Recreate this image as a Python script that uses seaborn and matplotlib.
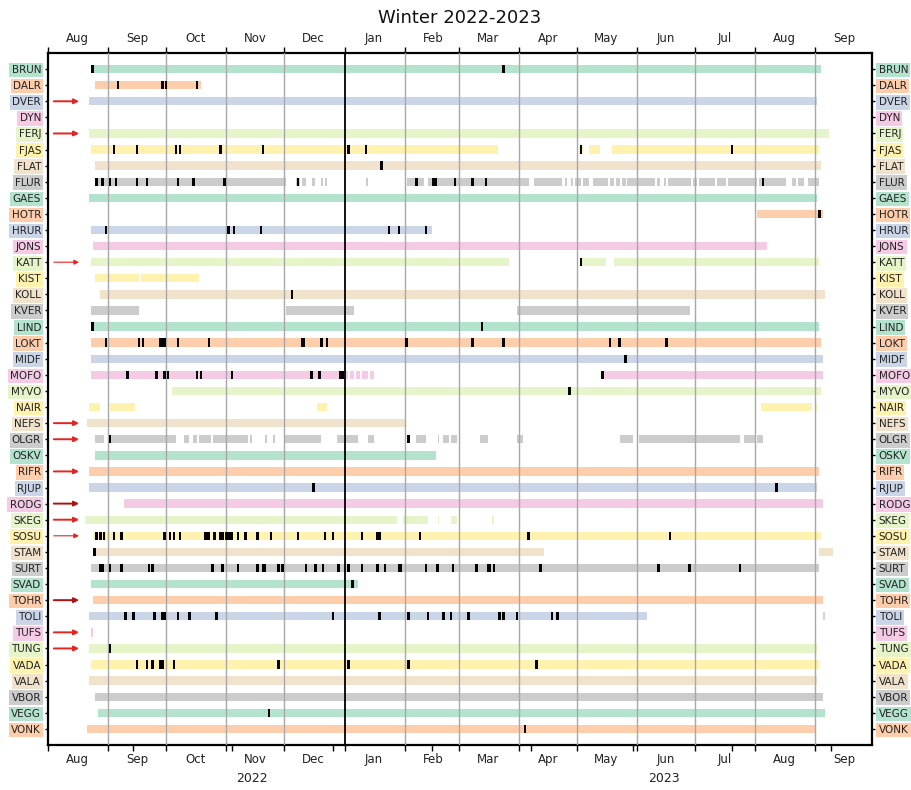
import matplotlib
matplotlib.use('Agg')
import matplotlib.pyplot as plt
import matplotlib.dates as mdates
from matplotlib.ticker import NullFormatter
import seaborn as sns
import pandas as pd

# ---------------- data ----------------
stations = ['BRUN', 'DALR', 'DVER', 'DYN', 'FERJ', 'FJAS', 'FLAT', 'FLUR', 'GAES', 'HOTR',
            'HRUR', 'JONS', 'KATT', 'KIST', 'KOLL', 'KVER', 'LIND', 'LOKT', 'MIDF', 'MOFO',
            'MYVO', 'NAIR', 'NEFS', 'OLGR', 'OSKV', 'RIFR', 'RJUP', 'RODG', 'SKEG', 'SOSU',
            'STAM', 'SURT', 'SVAD', 'TOHR', 'TOLI', 'TUFS', 'TUNG', 'VADA', 'VALA', 'VBOR',
            'VEGG', 'VONK']

periods = {
    'BRUN': [('2022-08-23', '2023-09-04')],
    'DALR': [('2022-08-25', '2022-10-19')],
    'DVER': [('2022-08-22', '2023-09-02')],
    'DYN': [],
    'FERJ': [('2022-08-22', '2023-09-08')],
    'FJAS': [('2022-08-23', '2023-03-21'), ('2023-05-02', '2023-05-04'), ('2023-05-07', '2023-05-13'),
             ('2023-05-19', '2023-09-03')],
    'FLAT': [('2022-08-25', '2023-09-04')],
    'FLUR': [('2022-08-25', '2022-12-02'), ('2022-12-07', '2022-12-09'), ('2022-12-10', '2022-12-12'),
             ('2022-12-15', '2022-12-17'), ('2022-12-20', '2022-12-21'), ('2022-12-22', '2022-12-23'),
             ('2023-01-12', '2023-01-13'), ('2023-02-02', '2023-02-11'), ('2023-02-13', '2023-04-06'),
             ('2023-04-09', '2023-04-23'), ('2023-04-25', '2023-04-26'), ('2023-04-28', '2023-04-29'),
             ('2023-04-30', '2023-05-03'), ('2023-05-04', '2023-05-07'), ('2023-05-09', '2023-05-17'),
             ('2023-05-18', '2023-05-20'), ('2023-05-21', '2023-05-23'), ('2023-05-24', '2023-05-26'),
             ('2023-05-27', '2023-06-10'), ('2023-06-11', '2023-06-13'), ('2023-06-15', '2023-06-16'),
             ('2023-06-17', '2023-06-29'), ('2023-06-30', '2023-07-02'), ('2023-07-03', '2023-07-11'),
             ('2023-07-12', '2023-07-17'), ('2023-07-18', '2023-08-02'), ('2023-08-03', '2023-08-17'),
             ('2023-08-20', '2023-08-22'), ('2023-08-23', '2023-08-26'), ('2023-08-28', '2023-09-03')],
    'GAES': [('2022-08-22', '2023-09-02')],
    'HOTR': [('2023-08-02', '2023-09-05')],
    'HRUR': [('2022-08-23', '2023-02-15')],
    'JONS': [('2022-08-24', '2023-08-07')],
    'KATT': [('2022-08-23', '2023-03-27'), ('2023-05-03', '2023-05-16'), ('2023-05-20', '2023-09-03')],
    'KIST': [('2022-08-25', '2022-09-17'), ('2022-09-18', '2022-10-18')],
    'KOLL': [('2022-08-28', '2023-09-06')],
    'KVER': [('2022-08-23', '2022-09-17'), ('2022-12-02', '2023-01-06'), ('2023-03-31', '2023-06-28')],
    'LIND': [('2022-08-23', '2023-09-03')],
    'LOKT': [('2022-08-23', '2023-09-04')],
    'MIDF': [('2022-08-23', '2023-09-05')],
    'MOFO': [('2022-08-23', '2023-01-03'), ('2023-01-04', '2023-01-06'), ('2023-01-07', '2023-01-09'),
             ('2023-01-10', '2023-01-13'), ('2023-01-14', '2023-01-16'), ('2023-05-14', '2023-09-05')],
    'MYVO': [('2022-10-04', '2023-09-04')],
    'NAIR': [('2022-08-22', '2022-08-28'), ('2022-09-02', '2022-09-15'), ('2022-12-18', '2022-12-23'),
             ('2023-08-04', '2023-08-30'), ('2023-09-01', '2023-09-02')],
    'NEFS': [('2022-08-21', '2023-02-01')],
    'OLGR': [('2022-08-25', '2022-08-30'), ('2022-09-02', '2022-10-06'), ('2022-10-10', '2022-10-13'),
             ('2022-10-15', '2022-10-17'), ('2022-10-18', '2022-10-24'), ('2022-10-25', '2022-11-12'),
             ('2022-11-13', '2022-11-14'), ('2022-11-21', '2022-11-22'), ('2022-11-25', '2022-11-26'),
             ('2022-12-01', '2022-12-20'), ('2022-12-28', '2023-01-08'), ('2023-01-13', '2023-01-16'),
             ('2023-02-07', '2023-02-12'), ('2023-02-18', '2023-02-19'), ('2023-02-21', '2023-02-24'),
             ('2023-02-25', '2023-02-28'), ('2023-03-12', '2023-03-16'), ('2023-03-31', '2023-04-03'),
             ('2023-05-23', '2023-05-30'), ('2023-06-02', '2023-07-24'), ('2023-07-26', '2023-08-01'),
             ('2023-08-02', '2023-08-05')],
    'OSKV': [('2022-08-25', '2023-02-17')],
    'RIFR': [('2022-08-22', '2023-09-03')],
    'RJUP': [('2022-08-22', '2023-09-02')],
    'RODG': [('2022-09-09', '2023-09-05')],
    'SKEG': [('2022-08-20', '2023-01-28'), ('2023-01-31', '2023-02-13'), ('2023-02-18', '2023-02-19'),
             ('2023-02-25', '2023-02-28'), ('2023-03-18', '2023-03-19')],
    'SOSU': [('2022-08-24', '2023-09-04')],
    'STAM': [('2022-08-24', '2023-04-14'), ('2023-09-03', '2023-09-10')],
    'SURT': [('2022-08-23', '2023-09-03')],
    'SVAD': [('2022-08-23', '2023-01-08')],
    'TOHR': [('2022-08-24', '2023-09-05')],
    'TOLI': [('2022-08-22', '2023-06-06'), ('2023-09-05', '2023-09-06')],
    'TUFS': [('2022-08-23', '2022-08-24')],
    'TUNG': [('2022-08-22', '2023-09-02')],
    'VADA': [('2022-08-23', '2023-09-03')],
    'VALA': [('2022-08-22', '2023-09-02')],
    'VBOR': [('2022-08-25', '2023-09-05')],
    'VEGG': [('2022-08-27', '2023-09-06')],
    'VONK': [('2022-08-21', '2023-09-01')],
}

events = {
    'BRUN': ['2022-08-24', '2023-03-24'],
    'DALR': ['2022-09-06', '2022-09-29', '2022-10-01', '2022-10-17'],
    'FJAS': ['2022-09-04', '2022-09-16', '2022-10-06', '2022-10-08', '2022-10-29', '2022-11-20',
             '2023-01-03', '2023-01-12', '2023-05-03', '2023-07-20'],
    'FLAT': ['2023-01-20'],
    'FLUR': ['2022-08-26', '2022-08-29', '2022-09-02', '2022-09-05', '2022-09-16', '2022-09-21',
             '2022-10-07', '2022-10-15', '2022-10-31', '2022-12-08', '2023-02-07', '2023-02-16',
             '2023-02-17', '2023-02-27', '2023-03-08', '2023-03-15', '2023-08-05'],
    'HOTR': ['2023-09-03'],
    'HRUR': ['2022-08-31', '2022-11-02', '2022-11-05', '2022-11-19', '2023-01-24', '2023-01-29',
             '2023-02-12'],
    'KATT': ['2023-05-03'],
    'KOLL': ['2022-12-05'],
    'LIND': ['2022-08-24', '2023-03-13'],
    'LOKT': ['2022-08-31', '2022-09-17', '2022-09-19', '2022-09-28', '2022-09-29', '2022-09-30',
             '2022-10-07', '2022-10-23', '2022-12-10', '2022-12-11', '2022-12-20', '2022-12-23',
             '2023-02-02', '2023-03-08', '2023-03-24', '2023-05-18', '2023-05-23', '2023-06-16'],
    'MIDF': ['2023-05-26'],
    'MOFO': ['2022-09-11', '2022-09-26', '2022-09-30', '2022-10-02', '2022-10-17', '2022-10-19',
             '2022-11-04', '2022-12-15', '2022-12-19', '2022-12-30', '2022-12-31', '2023-05-14'],
    'MYVO': ['2023-04-27'],
    'OLGR': ['2022-09-02', '2023-02-03'],
    'RJUP': ['2022-12-16', '2023-08-12'],
    'SOSU': ['2022-08-26', '2022-08-28', '2022-08-30', '2022-09-04', '2022-09-08', '2022-09-30',
             '2022-10-03', '2022-10-05', '2022-10-08', '2022-10-21', '2022-10-22', '2022-10-23',
             '2022-10-26', '2022-10-29', '2022-10-30', '2022-11-01', '2022-11-02', '2022-11-03',
             '2022-11-04', '2022-11-07', '2022-11-11', '2022-11-17', '2022-11-24', '2022-12-08',
             '2022-12-22', '2022-12-26', '2023-01-10', '2023-01-18', '2023-01-19', '2023-02-09',
             '2023-04-06', '2023-06-18'],
    'STAM': ['2022-08-25'],
    'SURT': ['2022-08-28', '2022-08-29', '2022-09-02', '2022-09-08', '2022-09-22', '2022-09-24',
             '2022-10-25', '2022-10-30', '2022-11-07', '2022-11-17', '2022-11-20', '2022-11-21',
             '2022-11-28', '2022-11-30', '2022-12-12', '2022-12-17', '2022-12-21', '2022-12-29',
             '2023-01-03', '2023-01-10', '2023-01-18', '2023-01-22', '2023-01-29', '2023-01-30',
             '2023-02-12', '2023-02-18', '2023-02-26', '2023-03-10', '2023-03-16', '2023-03-17',
             '2023-03-19', '2023-04-12', '2023-06-12', '2023-06-28', '2023-07-24'],
    'SVAD': ['2023-01-05'],
    'TOLI': ['2022-09-10', '2022-09-14', '2022-09-25', '2022-09-29', '2022-09-30', '2022-10-07',
             '2022-10-13', '2022-10-27', '2022-12-26', '2023-01-19', '2023-02-03', '2023-02-13',
             '2023-02-21', '2023-02-25', '2023-03-06', '2023-03-22', '2023-03-24', '2023-03-31',
             '2023-04-18', '2023-04-21'],
    'TUNG': ['2022-09-02'],
    'VADA': ['2022-09-16', '2022-09-21', '2022-09-24', '2022-09-28', '2022-09-29', '2022-10-05',
             '2022-11-28', '2023-01-03', '2023-02-03', '2023-04-10'],
    'VEGG': ['2022-11-23'],
    'VONK': ['2023-04-04'],
}

arrow_stations = ['DVER', 'FERJ', 'KATT', 'NEFS', 'OLGR', 'RIFR', 'RODG', 'SKEG', 'SOSU',
                  'TOHR', 'TUFS', 'TUNG']
thin_arrows = ['KATT', 'SOSU']
dark_arrows = ['RODG', 'TOHR']

x_start, x_end = '2022-08-01', '2023-09-30'
year_change = '2023-01-01'
extra_ticks = ['2022-09-14', '2022-11-04', '2022-12-26', '2023-02-15', '2023-04-07',
               '2023-05-30', '2023-07-20', '2023-09-09']
year_labels = ['2022', '2023']
year_label_dates = ['2022-11-14', '2023-06-15']
title = 'Winter 2022-2023'

# ---------------- style ----------------
sns.set_theme(style='white')
plt.rcParams['font.family'] = ['DejaVu Sans']
palette = sns.color_palette('Pastel2', 8)


def dn(d):
    return mdates.date2num(pd.Timestamp(d))


fig, ax = plt.subplots(figsize=(9.12, 7.90), dpi=100)
fig.subplots_adjust(left=48 / 912, right=871.7 / 912, top=1 - 53 / 790, bottom=1 - 745 / 790)

bar_h = 0.52
for i, st in enumerate(stations):
    col = palette[i % 8]
    segs = periods.get(st, [])
    if segs:
        ax.broken_barh([(dn(s), dn(e) - dn(s)) for s, e in segs], (i - bar_h / 2, bar_h),
                       facecolors=col, edgecolor='none', zorder=2)
    ev = events.get(st, [])
    if ev:
        ax.broken_barh([(dn(d) - 0.65, 1.3) for d in ev], (i - bar_h / 2, bar_h),
                       facecolors='black', edgecolor='none', zorder=4)

# month grid lines
for d in pd.date_range('2022-09-01', '2023-09-01', freq='MS'):
    if d == pd.Timestamp(year_change):
        ax.axvline(mdates.date2num(d), color='black', lw=1.3, zorder=3)
    else:
        ax.axvline(mdates.date2num(d), color='#a8a8a8', lw=1.0, zorder=3)

# arrows
for st in arrow_stations:
    i = stations.index(st)
    lw = 0.8 if st in thin_arrows else 1.4
    c = '#b01010' if st in dark_arrows else '#e8231e'
    ax.annotate('', xy=(dn('2022-08-17'), i), xytext=(dn('2022-08-04'), i),
                arrowprops=dict(arrowstyle='-|>', color=c, lw=lw, mutation_scale=7,
                                shrinkA=0, shrinkB=0), zorder=5)

ax.set_xlim(dn(x_start), dn(x_end))
ax.set_ylim(42.0, -1.0)

# x axis
ax.xaxis.set_major_locator(mdates.MonthLocator())
ax.xaxis.set_major_formatter(NullFormatter())
ax.xaxis.set_minor_locator(mdates.MonthLocator(bymonthday=16))
ax.xaxis.set_minor_formatter(mdates.DateFormatter('%b'))
ax.tick_params(axis='x', which='major', length=4.5, width=1.0, direction='out',
               top=True, bottom=True, color='black')
ax.tick_params(axis='x', which='minor', length=0, top=True, bottom=True,
               labeltop=True, labelbottom=True, labelsize=8.5, pad=5.5, labelcolor='#222222')

sec = ax.secondary_xaxis('bottom')
sec.set_xticks([dn(d) for d in extra_ticks])
sec.set_xticklabels([''] * len(extra_ticks))
sec.tick_params(length=4.5, width=1.0, color='black')
sec.spines['bottom'].set_visible(False)

# y axis
ax.set_yticks(range(len(stations)))
ax.set_yticklabels(stations)
ax.tick_params(axis='y', which='major', left=True, right=True, labelleft=True, labelright=True,
               length=2.5, width=1.0, pad=2.5, labelsize=7.5, color='black', labelcolor='#222222')
for i, tick in enumerate(ax.yaxis.get_major_ticks()):
    for lab in (tick.label1, tick.label2):
        lab.set_bbox(dict(boxstyle='square,pad=0.22', facecolor=palette[i % 8], edgecolor='none'))

for side in ['top', 'bottom', 'left', 'right']:
    ax.spines[side].set_visible(True)
    ax.spines[side].set_color('black')
    ax.spines[side].set_linewidth(1.6)
ax.grid(False)

for lab, d in zip(year_labels, year_label_dates):
    ax.text(dn(d), -0.049, lab, transform=ax.get_xaxis_transform(), ha='center', va='center',
            fontsize=9, color='#222222')

fig.text(459.9 / 912, 1 - 18 / 790, title, ha='center', va='center', fontsize=13, color='#111111')

fig.savefig('out.png', dpi=100)
